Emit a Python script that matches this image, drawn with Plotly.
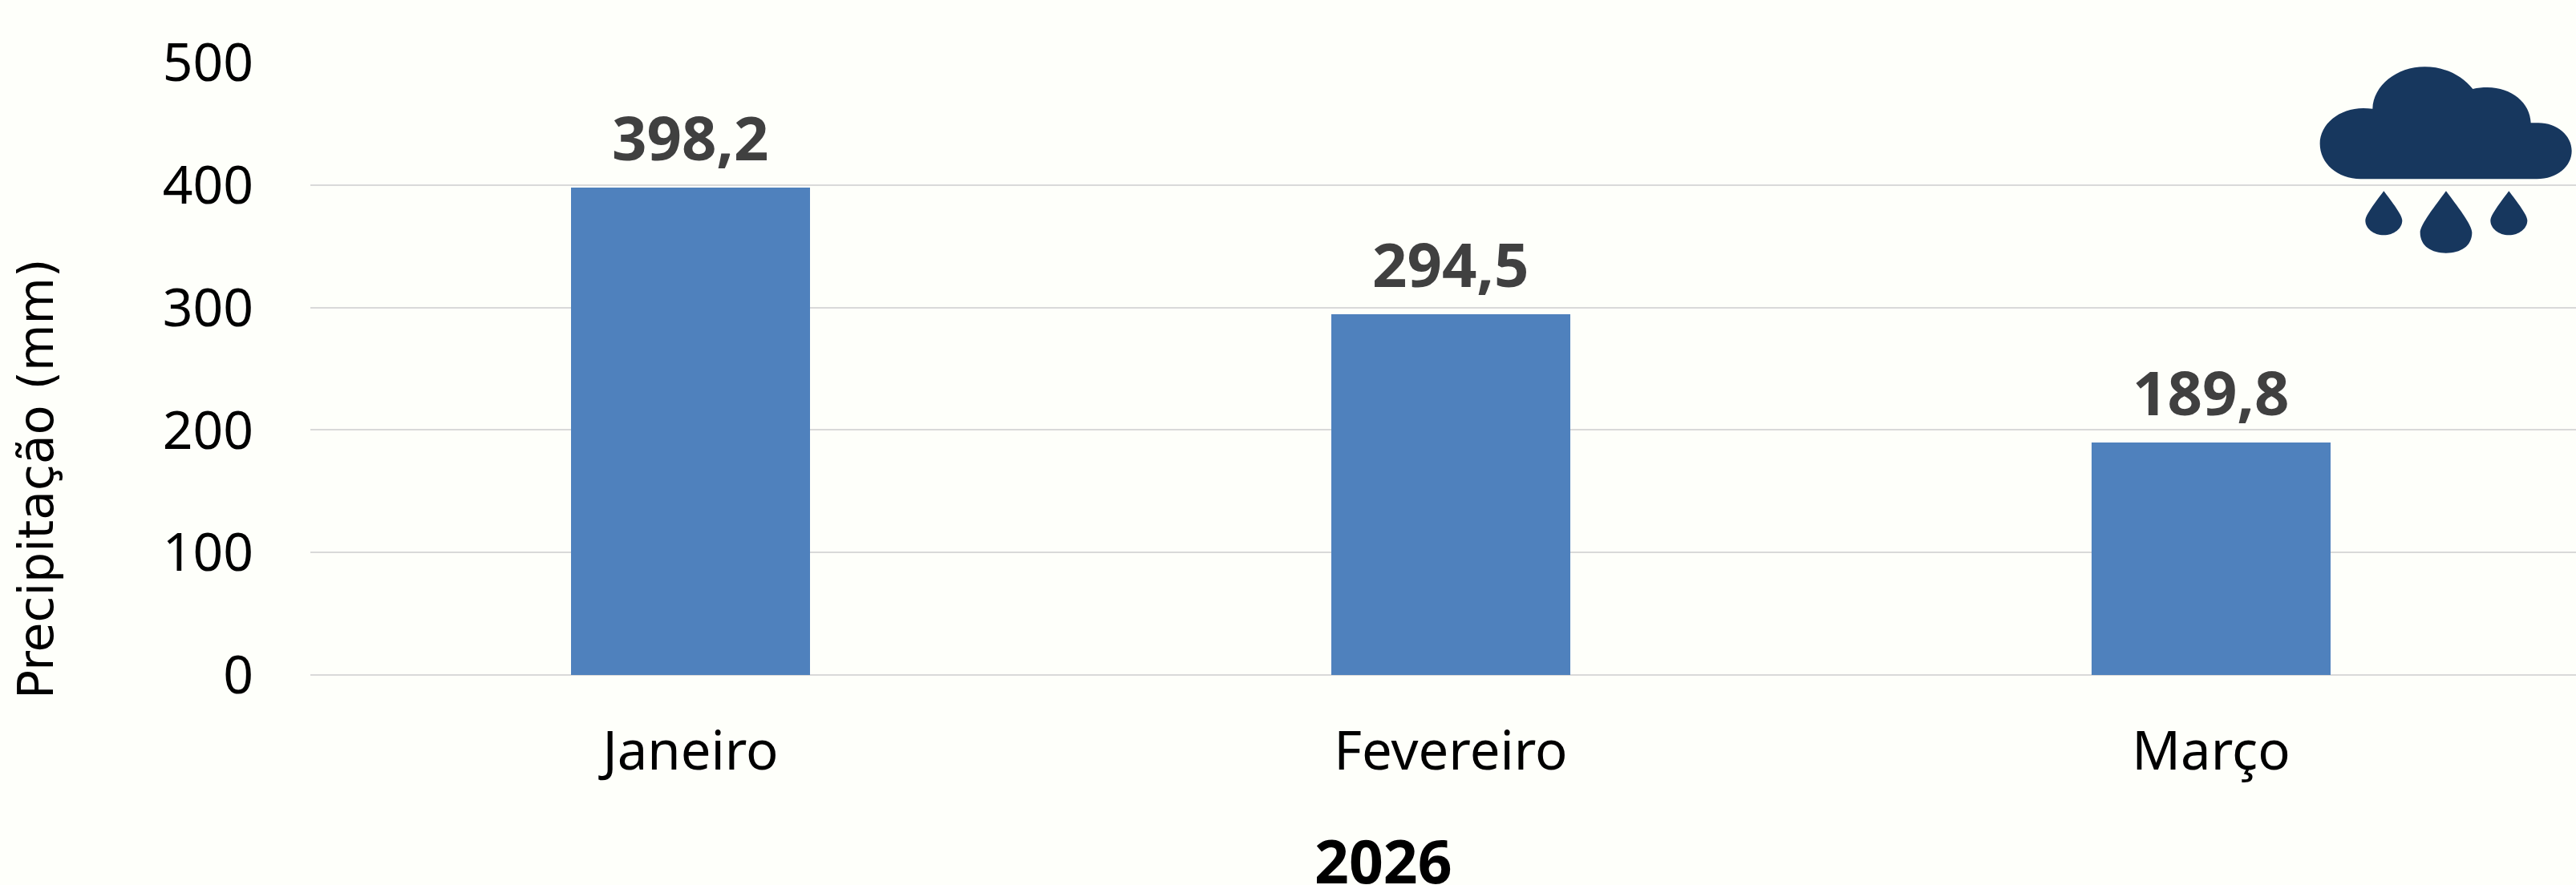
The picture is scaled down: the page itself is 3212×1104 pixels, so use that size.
import plotly.graph_objects as go

months = ["Janeiro", "Fevereiro", "Março"]
precip = [398.2, 294.5, 189.8]
labels = ["398,2", "294,5", "189,8"]
y_ticks = [0, 100, 200, 300, 400, 500]
x_title = "2026"
y_title = "Precipitação (mm)"

W, H = 3212, 1104
L, T, B = 387, 78, 842

CLOUD = [["M", 310,520], ["C", 225,520,158,462,158,388], ["C", 158,315,230,255,320,255],
         ["C", 332,255,344,256,355,257], ["C", 358,170,445,100,550,100], ["C", 625,100,690,132,730,183],
         ["C", 748,179,765,177,785,177], ["C", 875,177,945,235,947,310], ["C", 955,310,965,310,975,310],
         ["C", 1045,310,1100,357,1100,415], ["C", 1100,473,1045,520,970,520], ["Z"]]

def drop(cx, tip, mid, bot, hw):
    return [["M", cx,tip], ["C", cx+hw*0.35,tip+(mid-tip)*0.3,cx+hw,mid-(mid-tip)*0.2,cx+hw,mid],
            ["C", cx+hw,bot-25,cx+hw*0.55,bot,cx,bot], ["C", cx-hw*0.55,bot,cx-hw,bot-25,cx-hw,mid],
            ["C", cx-hw,mid-(mid-tip)*0.2,cx-hw*0.35,tip+(mid-tip)*0.3,cx,tip], ["Z"]]

def to_path(cmds):
    parts = []
    for c in cmds:
        pts = []
        for i in range(1, len(c), 2):
            px = 2840 + c[i] / 3
            py = 50 + c[i + 1] / 3
            pts.append(f"{(px - L) / (W - L):.5f},{(B - py) / (B - T):.5f}")
        parts.append(c[0] + " ".join(pts))
    return " ".join(parts)

icon = [CLOUD, drop(397,565,675,730,69), drop(630,565,720,797,97), drop(865,565,675,730,69)]
shapes = [dict(type="path", xref="paper", yref="paper", path=to_path(p),
               fillcolor="#17375E", line=dict(width=0), layer="above") for p in icon]

annotations = [dict(x=m, y=v, text=t, xref="x", yref="y", showarrow=False,
                    xanchor="center", yanchor="bottom", yshift=10,
                    font=dict(family="Open Sans", size=76, color="#404040", weight="bold"))
               for m, v, t in zip(months, precip, labels)]
annotations.append(dict(x=(1725 - L) / (W - L), y=(B - 1073) / (B - T), text=x_title,
                        xref="paper", yref="paper", showarrow=False,
                        xanchor="center", yanchor="middle",
                        font=dict(family="Noto Sans", size=75, color="#000000", weight="bold")))
annotations.append(dict(x=(45 - L) / (W - L), y=(B - 598) / (B - T), text=y_title, textangle=-90,
                        xref="paper", yref="paper", showarrow=False,
                        xanchor="center", yanchor="middle",
                        font=dict(family="DejaVu Sans", size=60, color="#000000")))

fig = go.Figure(go.Bar(
    x=months, y=precip, width=0.314, cliponaxis=False,
    marker=dict(color="#4F81BD", line=dict(width=0)),
))
fig.update_layout(
    width=W, height=H, autosize=False,
    margin=dict(l=L, r=0, t=T, b=H - B, pad=0),
    paper_bgcolor="#FEFFFA", plot_bgcolor="#FEFFFA",
    showlegend=False, shapes=shapes, annotations=annotations, bargap=0,
)
fig.update_xaxes(
    type="category", range=[-0.5, 2.48], showgrid=False, showline=False, zeroline=False,
    ticks="", ticklabelstandoff=50,
    tickfont=dict(family="Noto Sans", size=67, color="#000000"),
)
fig.update_yaxes(
    range=[0, 500], tickvals=y_ticks, showgrid=True, gridcolor="#D9D9D9", gridwidth=2,
    zeroline=True, zerolinecolor="#D9D9D9", zerolinewidth=2, showline=False,
    ticks="", ticklabelstandoff=70,
    tickfont=dict(family="Noto Sans", size=66, color="#000000"),
)
fig.write_html("out.html", config=dict(displayModeBar=False),
               post_script="document.body.style.margin='0';document.body.style.overflow='hidden';")
